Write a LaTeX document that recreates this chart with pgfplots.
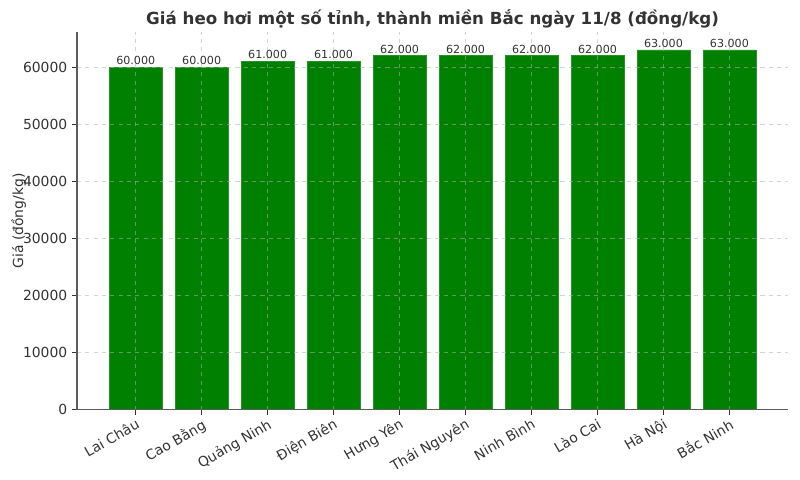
\documentclass[border=0pt]{standalone}
\usepackage{pgfplots}
\pgfplotsset{compat=1.18}
\usepackage{fontspec}
\setmainfont{DejaVu Sans}
\definecolor{txt}{HTML}{333333}
\definecolor{barg}{HTML}{008000}
\definecolor{gridc}{HTML}{B0B0B0}
\begin{document}
\begin{tikzpicture}
\path[use as bounding box] (-55.44pt,-50.4pt) rectangle (520.56pt,295.04pt);
\begin{axis}[
  at={(0,0)}, anchor=south west,
  scale only axis, width=512pt, height=272pt,
  xmin=-0.89, xmax=9.89, ymin=0, ymax=66150,
  axis lines*=left,
  axis line style={color=txt!80, line width=0.8pt},
  axis on top,
  ymajorgrids, xmajorgrids,
  grid style={dashed, color=gridc, opacity=0.55, line width=0.5pt},
  xtick={0,...,9},
  xticklabels={Lai Châu,Cao Bằng,Quảng Ninh,Điện Biên,Hưng Yên,Thái Nguyên,Ninh Bình,Lào Cai,Hà Nội,Bắc Ninh},
  xticklabel style={rotate=30, anchor=north east, font=\fontsize{10}{12}\selectfont, color=txt, inner sep=1.5pt},
  ytick={0,10000,...,60000},
  scaled y ticks=false,
  yticklabel style={font=\fontsize{10}{12}\selectfont, color=txt},
  /pgf/number format/1000 sep={},
  /pgf/number format/assume math mode=true,
  tick style={color=txt, line width=0.8pt},
  tick align=outside, major tick length=3.5pt,
  ylabel={Giá (đồng/kg)},
  ylabel shift=-9pt,
  ylabel style={font=\fontsize{10}{12}\selectfont, color=txt},
  title={\textbf{Giá heo hơi một số tỉnh, thành miền Bắc ngày 11/8 (đồng/kg)}},
  title style={font=\fontsize{12}{14}\selectfont, color=txt, yshift=-7pt},
  ybar, bar width=0.8, bar shift=0pt,
  nodes near coords={\pgfmathprintnumber[1000 sep={.}, assume math mode=true]{\pgfplotspointmeta}},
  every node near coord/.append style={font=\fontsize{8}{9}\selectfont, color=txt, inner sep=1.5pt},
]
\addplot[fill=barg, draw=barg!85!white, line width=0.4pt] coordinates {
(0,60000) (1,60000) (2,61000) (3,61000) (4,62000) (5,62000) (6,62000) (7,62000) (8,63000) (9,63000)};
\end{axis}
\end{tikzpicture}
\end{document}
